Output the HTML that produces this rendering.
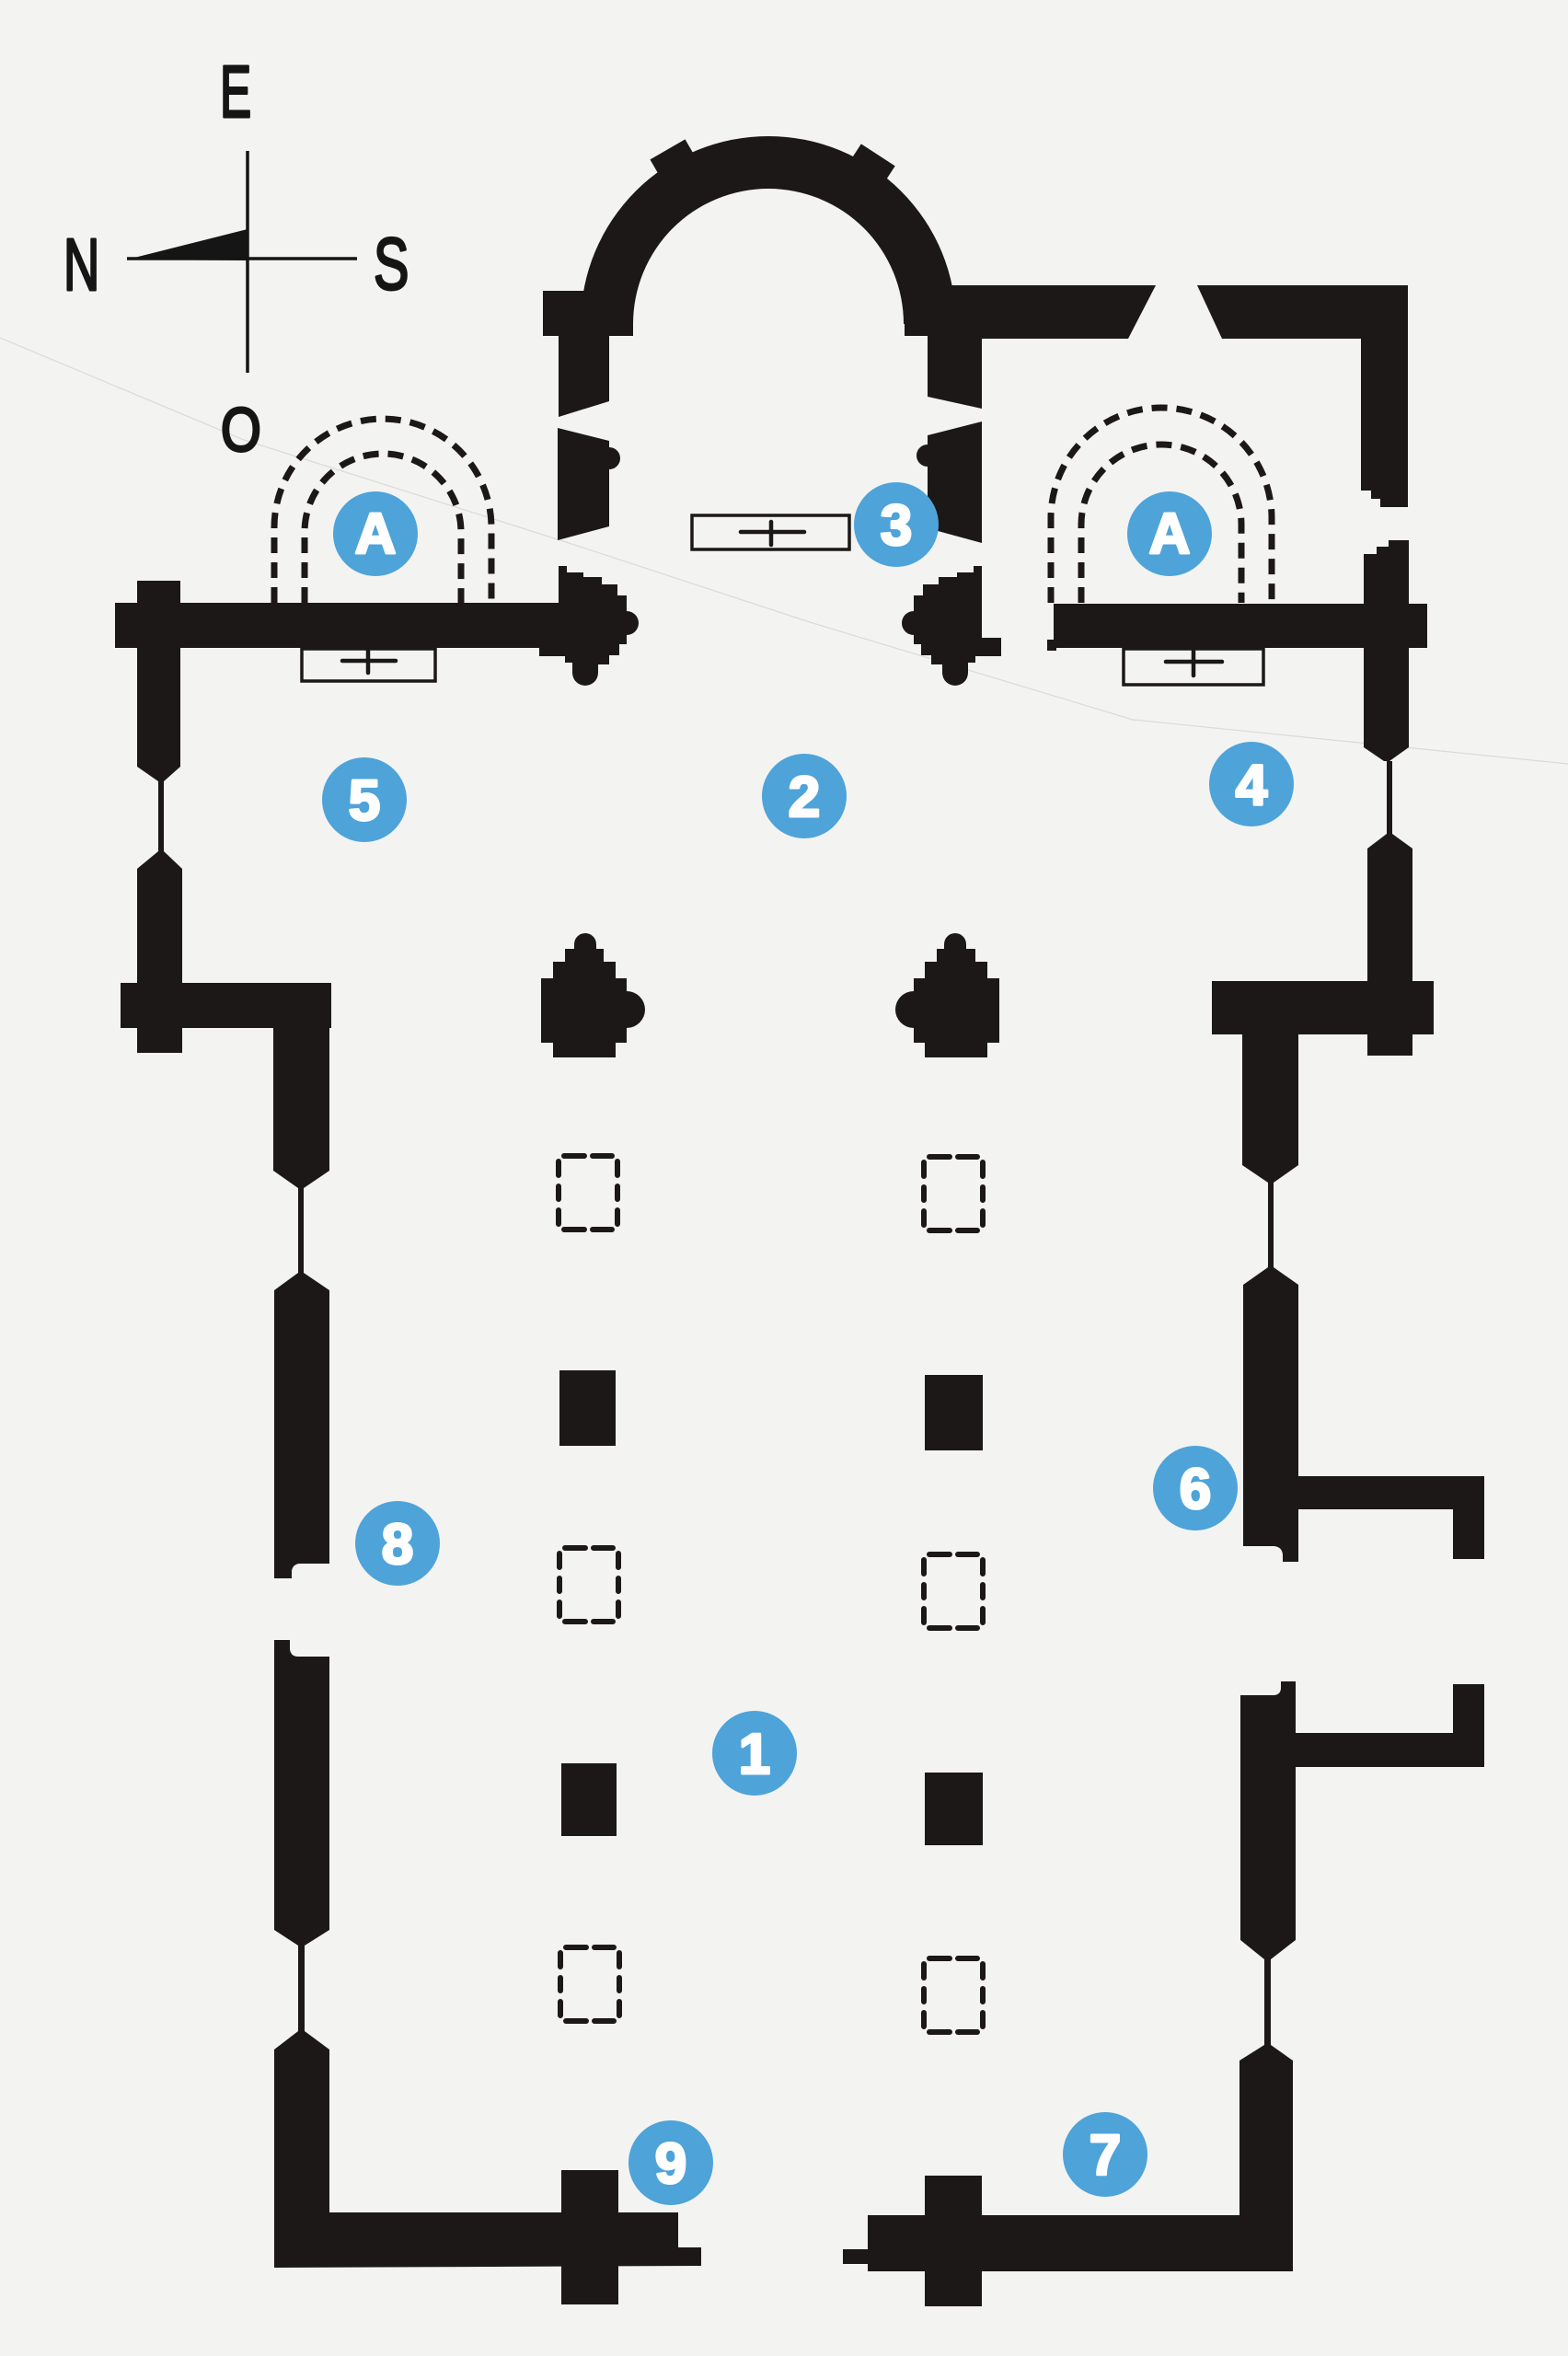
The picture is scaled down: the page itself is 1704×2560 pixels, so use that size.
<!DOCTYPE html>
<html>
<head>
<meta charset="utf-8">
<style>
html,body{margin:0;padding:0;background:#f3f3f2;}
svg{display:block;}
</style>
</head>
<body>
<svg width="1704" height="2560" viewBox="0 0 1704 2560" xmlns="http://www.w3.org/2000/svg">
<defs>
  <g id="dr" fill="none" stroke="#1c1818" stroke-width="6" stroke-linecap="round">
    <path d="M9,3 H31 M40,3 H61 M9,83 H31 M40,83 H61 M3,9 V24 M3,36 V50 M3,62 V77 M67,9 V24 M67,36 V50 M67,62 V77"/>
  </g>
  <path id="pierTop" d="M1058,615 L1067,615 L1067,693 L1088,693 L1088,713 L1060,713 L1060,720 L1052,720 L1052,731 A14,14 0 0 1 1024,731 L1024,722 L1012,722 L1012,712 L1001,712 L1001,700 L993,700 L993,690 A13,13 0 0 1 993,664 L993,647 L1003,647 L1003,635 L1020,635 L1020,627 L1040,627 L1040,622 L1058,622 Z"/>
  <path id="pierMid" d="M624,1026 A12,12 0 0 1 648,1026 L648,1031 L656,1031 L656,1045 L669,1045 L669,1063 L681,1063 L681,1077 A20,20 0 0 1 681,1117 L681,1133 L669,1133 L669,1149 L601,1149 L601,1133 L588,1133 L588,1063 L601,1063 L601,1045 L614,1045 L614,1031 L624,1031 Z"/>
</defs>

<rect width="1704" height="2560" fill="#f3f3f2"/>

<!-- faint crack line -->
<polyline points="0,367 265,478 612,588 880,676 1231,782 1704,830" fill="none" stroke="#dadada" stroke-width="1.2"/>

<!-- compass -->
<g stroke="#151515" stroke-width="3.5">
  <line x1="269" y1="164" x2="269" y2="405"/>
  <line x1="138" y1="281" x2="388" y2="281"/>
</g>
<polygon points="138,282 269,249 269,283" fill="#151515"/>
<g font-family="'Liberation Sans', sans-serif" fill="#151515" stroke="#151515" stroke-width="3" stroke-linejoin="round">
  <text font-size="80" transform="translate(239,127) scale(0.64,1)">E</text>
  <text font-size="80" transform="translate(69,315) scale(0.68,1)">N</text>
  <text font-size="80" transform="translate(406,314) scale(0.72,1)">S</text>
  <text font-size="67" transform="translate(240,490) scale(0.84,1)">O</text>
</g>

<!-- walls -->
<g fill="#1c1818">
  <!-- apse -->
  <path d="M631,352 A204,204 0 0 1 1039,352 L982,352 A147,147 0 0 0 688,352 Z"/>
  <g transform="translate(835,352) rotate(-30)"><rect x="-22" y="-219" width="44" height="26"/></g>
  <g transform="translate(835,352) rotate(33)"><rect x="-22" y="-219" width="44" height="26"/></g>
  <path d="M590,316 H688 V365 H662 V436 L607,453 V365 H590 Z"/>
  <path d="M983,310 H1256 L1226,368 H1067 V444 L1008,431 V365 H983 Z"/>
  <!-- top right room -->
  <path d="M1301,310 H1530 V551 H1500 V542 H1490 V533 H1479 V368 H1328 Z"/>
  <!-- pieces near 3 -->
  <path d="M606,465 L662,479 V486 A12,12 0 0 1 662,510 V572 L606,587 Z"/>
  <path d="M1067,458 V590 L1008,574 V507 A12,12 0 0 1 1008,483 V473 Z"/>
  <!-- transept piers -->
  <use href="#pierTop"/>
  <use href="#pierTop" transform="matrix(-1,0,0,1,1674,0)"/>
  <!-- nave piers -->
  <use href="#pierMid"/>
  <use href="#pierMid" transform="matrix(-1,0,0,1,1674,0)"/>

  <!-- left side walls -->
  <rect x="125" y="655" width="487" height="49"/>
  <path d="M149,631 H196 V833 L178,849 H172 L149,833 Z"/>
  <rect x="172" y="849" width="6" height="76"/>
  <path d="M172,925 H178 L198,944 V1144 H149 V944 Z"/>
  <rect x="131" y="1068" width="229" height="49"/>
  <path d="M297,1068 H358 V1272 L330,1291 H324 L297,1272 Z"/>
  <rect x="324" y="1291" width="6" height="92"/>
  <path d="M324,1383 H330 L358,1402 V1699 H325 Q318,1700 317,1707 V1715 H298 V1402 Z"/>
  <path d="M298,1782 H315 V1792 Q316,1800 324,1800 H358 V2097 L331,2114 H324 L298,2097 Z"/>
  <rect x="324" y="2114" width="7" height="93"/>
  <path d="M324,2207 H331 L358,2227 V2404 H737 V2442 H762 V2462 L298,2464 V2227 Z"/>
  <rect x="610" y="2358" width="62" height="146"/>

  <!-- right side walls -->
  <path d="M1509,587 H1531 V812 L1510,827 H1504 L1482,812 V602 H1496 V594 H1509 Z"/>
  <rect x="1145" y="656" width="406" height="48"/>
  <rect x="1138" y="695" width="10" height="12"/>
  <rect x="1507" y="827" width="6" height="79"/>
  <path d="M1507,906 H1513 L1535,922 V1147 H1486 V922 Z"/>
  <rect x="1317" y="1066" width="241" height="58"/>
  <path d="M1350,1124 H1411 V1266 L1384,1285 H1378 L1350,1266 Z"/>
  <rect x="1378" y="1285" width="6" height="92"/>
  <path d="M1378,1377 H1384 L1411,1396 V1697 H1394 V1689 Q1393,1681 1385,1680 H1351 V1396 Z"/>
  <rect x="1411" y="1604" width="202" height="36"/>
  <rect x="1579" y="1604" width="34" height="90"/>
  <path d="M1348,1842 H1385 Q1392,1841 1392,1834 V1827 H1408 V2108 L1381,2129 H1374 L1348,2108 Z"/>
  <rect x="1408" y="1883" width="205" height="37"/>
  <rect x="1579" y="1830" width="34" height="90"/>
  <rect x="1374" y="2129" width="7" height="93"/>
  <path d="M1374,2222 H1381 L1405,2239 V2468 H943 V2460 H916 V2444 H943 V2407 H1347 V2239 Z"/>
  <rect x="1005" y="2364" width="62" height="142"/>

  <!-- solid columns -->
  <rect x="608" y="1489" width="61" height="82"/>
  <rect x="610" y="1916" width="60" height="79"/>
  <rect x="1005" y="1494" width="63" height="82"/>
  <rect x="1005" y="1926" width="63" height="79"/>
</g>

<!-- dashed columns -->
<use href="#dr" x="604" y="1253"/>
<use href="#dr" x="605" y="1679"/>
<use href="#dr" x="606" y="2113"/>
<use href="#dr" x="1001" y="1254"/>
<use href="#dr" x="1001" y="1686"/>
<use href="#dr" x="1001" y="2125"/>

<!-- dashed apses -->
<g fill="none" stroke="#1c1818" stroke-width="7" stroke-dasharray="17 10">
  <path d="M298,655 L298,573 A118,118 0 0 1 534,573 L534,655"/>
  <path d="M331,655 L331,578 A85,85 0 0 1 501,578 L501,655"/>
  <path d="M1142,655 L1142,563 A120,120 0 0 1 1382,563 L1382,655"/>
  <path d="M1175,655 L1175,570 A87,87 0 0 1 1349,570 L1349,655"/>
</g>

<!-- altar boxes -->
<g fill="none" stroke="#1c1818" stroke-width="3.5">
  <rect x="328" y="705" width="145" height="35"/>
  <rect x="1221" y="705" width="152" height="39"/>
  <rect x="752" y="560" width="171" height="37"/>
</g>
<g stroke="#1c1818" stroke-width="4.5" stroke-linecap="round">
  <line x1="372" y1="718" x2="430" y2="718"/><line x1="400" y1="707" x2="400" y2="731"/>
  <line x1="1267" y1="719" x2="1328" y2="719"/><line x1="1297" y1="706" x2="1297" y2="734"/>
  <line x1="805" y1="578" x2="874" y2="578"/><line x1="838" y1="567" x2="838" y2="592"/>
</g>

<!-- blue markers -->
<g fill="#4ea3d9">
  <circle cx="408" cy="580" r="46"/>
  <circle cx="1271" cy="580" r="46"/>
  <circle cx="974" cy="570" r="46"/>
  <circle cx="396" cy="869" r="46"/>
  <circle cx="874" cy="865" r="46"/>
  <circle cx="1360" cy="852" r="46"/>
  <circle cx="1299" cy="1617" r="46"/>
  <circle cx="432" cy="1677" r="46"/>
  <circle cx="820" cy="1905" r="46"/>
  <circle cx="729" cy="2350" r="46"/>
  <circle cx="1201" cy="2341" r="46"/>
</g>
<g font-family="'Liberation Sans', sans-serif" font-weight="bold" font-size="62" fill="#ffffff" stroke="#ffffff" stroke-width="3" stroke-linejoin="round" text-anchor="middle">
  <text x="408" y="601">A</text>
  <text x="1271" y="601">A</text>
  <text x="974" y="592">3</text>
  <text x="396" y="891">5</text>
  <text x="874" y="887">2</text>
  <text x="1360" y="874">4</text>
  <text x="1299" y="1639">6</text>
  <text x="432" y="1699">8</text>
  <text x="820" y="1927">1</text>
  <text x="729" y="2372">9</text>
  <text x="1201" y="2363">7</text>
</g>
</svg>
</body>
</html>
